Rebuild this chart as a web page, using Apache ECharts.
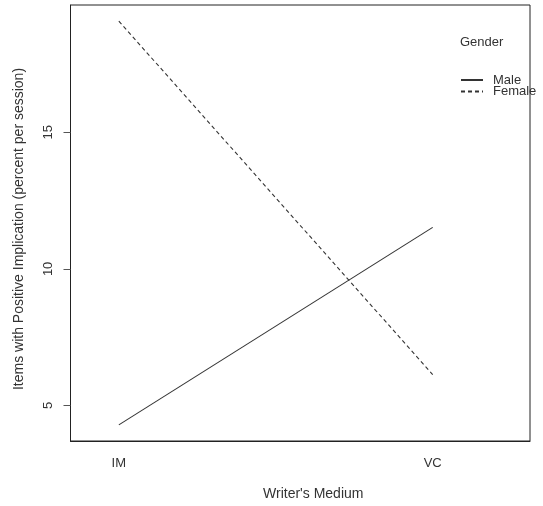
<!DOCTYPE html>
<html>
<head>
<meta charset="utf-8">
<script src="https://cdn.jsdelivr.net/npm/echarts@6/dist/echarts.min.js"></script>
<style>html,body{margin:0;padding:0;background:#fff}#c{width:543px;height:506px}</style>
</head>
<body>
<div id="c"></div>
<script>
var categories = ['IM', 'VC'];
var categoryPos = [1, 2];
var maleValues = [4.29, 11.52];
var femaleValues = [19.07, 6.13];
var seriesNames = ['Male', 'Female'];
var yTicks = [5, 10, 15];

var FONT = '"Liberation Sans", Arial, sans-serif';
var TXT = '#333';
function pts(vals) { return vals.map(function (v, i) { return [categoryPos[i], v]; }); }

var chart = echarts.init(document.getElementById('c'), null, { renderer: 'canvas' });
chart.setOption({
  animation: false,
  backgroundColor: '#fff',
  title: {
    text: 'Gender', left: 460, top: 36, padding: 0,
    textStyle: { fontFamily: FONT, fontSize: 13, fontWeight: 'normal', color: TXT }
  },
  legend: {
    data: seriesNames, orient: 'vertical', left: 460, top: 73.5, padding: 0,
    itemWidth: 22, itemHeight: 11, itemGap: -1.6,
    itemStyle: { color: 'transparent', borderColor: 'transparent', borderWidth: 0, opacity: 0 },
    textStyle: { fontFamily: FONT, fontSize: 13, color: TXT, lineHeight: 11, padding: [0, 0, 0, 5] }
  },
  grid: {
    left: 70.5, top: 5, width: 459.5, height: 437.5, show: true,
    borderColor: '#222', borderWidth: 1, backgroundColor: 'transparent'
  },
  xAxis: {
    type: 'value', min: 0.846, max: 2.31,
    name: "Writer's Medium", nameLocation: 'middle', nameGap: 46,
    nameTextStyle: { fontFamily: FONT, fontSize: 14, color: TXT, padding: [0, 0, 0, 26] },
    axisLine: { show: true, lineStyle: { color: '#222' } },
    axisTick: { show: false },
    splitLine: { show: false },
    axisLabel: {
      customValues: categoryPos, margin: 16, fontFamily: FONT, fontSize: 13, color: TXT,
      formatter: function (v) { var i = categoryPos.indexOf(v); return i >= 0 ? categories[i] : ''; }
    }
  },
  yAxis: {
    type: 'value', min: 3.70, max: 19.66,
    name: 'Items with Positive Implication (percent per session)', nameLocation: 'middle', nameGap: 44,
    nameTextStyle: { fontFamily: FONT, fontSize: 14, color: TXT, padding: [0, 12, 0, 0] },
    axisLine: { show: true, lineStyle: { color: '#222' } },
    axisTick: { show: true, customValues: yTicks, length: 7, lineStyle: { color: '#555' } },
    splitLine: { show: false },
    axisLabel: { customValues: yTicks, rotate: 90, margin: 16, fontFamily: FONT, fontSize: 13, color: TXT }
  },
  series: [
    { name: seriesNames[0], type: 'line', data: pts(maleValues), symbol: 'none', silent: true,
      lineStyle: { color: '#333', width: 1.1, type: 'solid' }, itemStyle: { color: '#333' } },
    { name: seriesNames[1], type: 'line', data: pts(femaleValues), symbol: 'none', silent: true,
      lineStyle: { color: '#333', width: 1.1, type: [4, 3] }, itemStyle: { color: '#333' } }
  ]
});
</script>
</body>
</html>
